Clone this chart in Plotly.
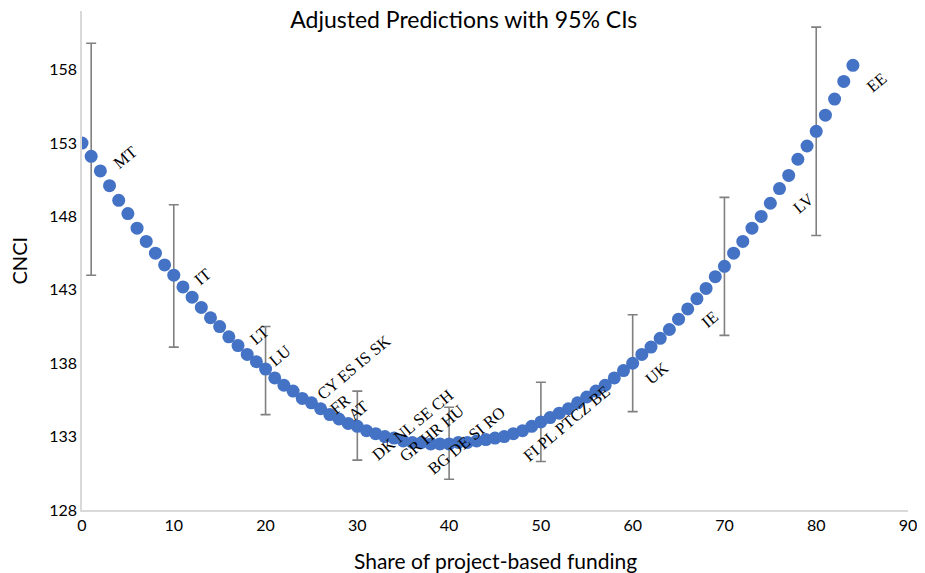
import plotly.graph_objects as go

# Share of project-based funding (x) and adjusted CNCI predictions (y)
share = list(range(0, 85))
cnci = [
    153.0, 152.1, 151.1, 150.1, 149.1, 148.2, 147.2, 146.3, 145.5, 144.7,
    144.0, 143.2, 142.5, 141.8, 141.1, 140.5, 139.8, 139.2, 138.6, 138.1,
    137.6, 137.0, 136.5, 136.1, 135.6, 135.3, 134.9, 134.5, 134.2, 133.9,
    133.7, 133.4, 133.2, 133.0, 132.9, 132.7, 132.6, 132.6, 132.5, 132.5,
    132.5, 132.6, 132.6, 132.7, 132.8, 132.9, 133.0, 133.2, 133.4, 133.7,
    134.0, 134.3, 134.6, 134.9, 135.3, 135.7, 136.1, 136.5, 137.0, 137.5,
    138.0, 138.6, 139.1, 139.7, 140.3, 141.0, 141.7, 142.4, 143.1, 143.9,
    144.6, 145.5, 146.3, 147.2, 148.0, 148.9, 149.9, 150.8, 151.9, 152.8,
    153.8, 154.9, 156.0, 157.2, 158.3,
]

# 95% confidence intervals
ci_x = [1, 10, 20, 30, 40, 50, 60, 70, 80]
ci_upper = [159.8, 148.8, 140.5, 136.1, 135.0, 136.7, 141.3, 149.3, 160.9]
ci_lower = [144.0, 139.1, 134.5, 131.4, 130.1, 131.3, 134.7, 139.9, 146.7]

# Country labels (text, x, y of label centre)
label_text = ["MT", "IT", "LT", "LU", "CY ES IS SK", "FR", "AT", "DK NL SE CH",
              "GR HR HU", "BG DE SI RO", "FI PL PTCZ BE", "UK", "IE", "LV", "EE"]
label_x = [4.7, 13.2, 19.3, 21.6, 29.6, 28.1, 30.1, 36.1, 38.1, 41.9, 52.8, 62.6, 68.4, 78.6, 86.6]
label_y = [152.0, 143.9, 139.9, 138.5, 137.7, 135.2, 134.8, 133.8, 133.2, 132.75, 133.9, 137.3, 141.0, 148.9, 157.1]

x_ticks = list(range(0, 91, 10))
y_ticks = list(range(128, 159, 5))

ci_pred = [cnci[share.index(v)] for v in ci_x]
err_plus = [u - p for u, p in zip(ci_upper, ci_pred)]
err_minus = [p - l for l, p in zip(ci_lower, ci_pred)]

fig = go.Figure()
fig.add_trace(go.Scatter(
    x=ci_x, y=ci_pred, mode="markers",
    marker=dict(size=1, opacity=0),
    error_y=dict(type="data", symmetric=False, array=err_plus, arrayminus=err_minus,
                 color="#808080", thickness=1.6, width=5),
    hoverinfo="skip", showlegend=False,
))
fig.add_trace(go.Scatter(
    x=share, y=cnci, mode="markers",
    marker=dict(size=13, color="#4472C4", line=dict(width=0)),
    showlegend=False,
))

for t, lx, ly in zip(label_text, label_x, label_y):
    fig.add_annotation(x=lx, y=ly, text=t, showarrow=False, textangle=-40,
                       font=dict(family="Liberation Serif, Times New Roman, serif", size=16.5, color="#000000"),
                       xanchor="center", yanchor="middle")

# Axis titles
fig.add_annotation(x=0.5, y=0, xref="paper", yref="paper", yshift=-50, text="Share of project-based funding",
                   showarrow=False, font=dict(family="Lato, sans-serif", size=21, color="#000000"),
                   xanchor="center", yanchor="middle")
fig.add_annotation(x=0, y=0.5, xref="paper", yref="paper", xshift=-64, text="CNCI", textangle=-90,
                   showarrow=False, font=dict(family="Lato, sans-serif", size=20, color="#000000"),
                   xanchor="center", yanchor="middle")

fig.update_layout(
    width=917, height=565,
    margin=dict(l=74, r=17, t=3, b=63),
    paper_bgcolor="white", plot_bgcolor="white",
    title=dict(text="Adjusted Predictions with 95% CIs", x=0.497, xref="container",
               y=0.993, yref="container", xanchor="center", yanchor="top",
               font=dict(family="Lato, sans-serif", size=23, color="#000000")),
    font=dict(family="Lato, sans-serif", size=16, color="#000000"),
    xaxis=dict(range=[0, 90], tickvals=x_ticks, showgrid=False, zeroline=False,
               showline=True, linecolor="#D9D9D9", linewidth=1.5, ticks="",
               tickfont=dict(size=16, color="#000000")),
    yaxis=dict(range=[128, 162], tickvals=y_ticks, showgrid=False, zeroline=False,
               showline=True, linecolor="#D9D9D9", linewidth=1.5, ticks="",
               tickfont=dict(size=16, color="#000000")),
)

fig.write_html("out.html")
